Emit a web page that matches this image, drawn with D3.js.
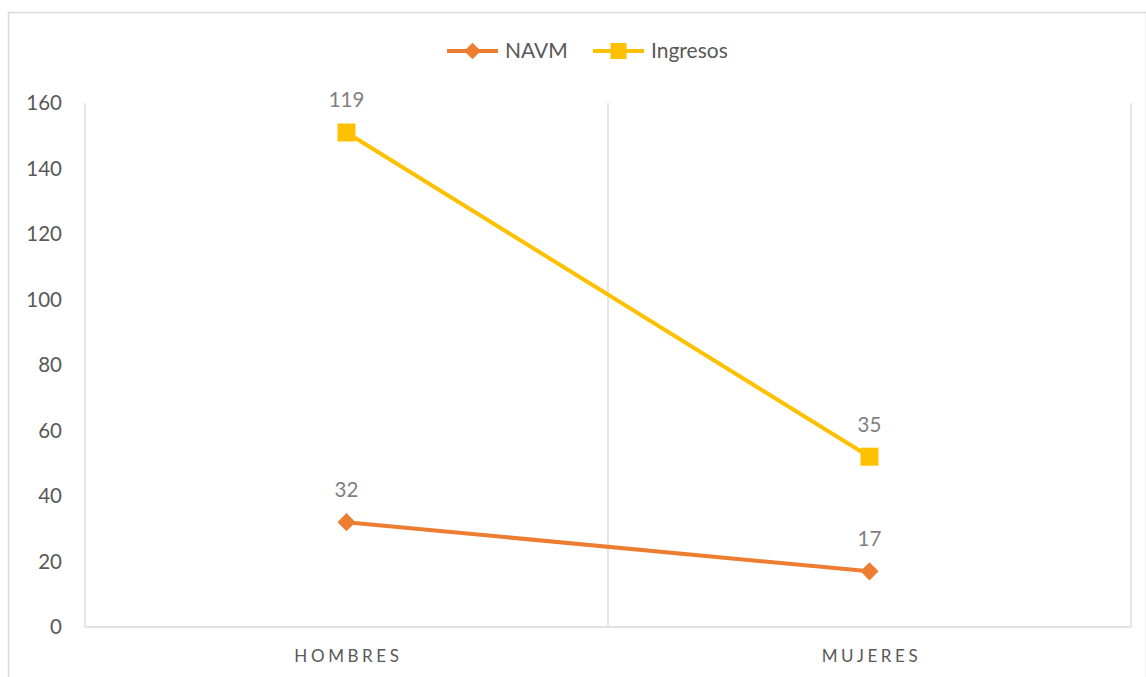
<!DOCTYPE html>
<html><head><meta charset="utf-8">
<script src="https://cdn.jsdelivr.net/npm/d3@7"></script>
<style>body{margin:0;background:#fff;}svg{display:block;font-family:Lato,"Open Sans",sans-serif;}</style>
</head><body>
<svg id="c" width="1146" height="677"></svg>
<script>
const categories = ["HOMBRES", "MUJERES"];
const navm = [32, 17];
const ingresos = [119, 35];
const yTicks = [0, 20, 40, 60, 80, 100, 120, 140, 160];
const seriesNames = ["NAVM", "Ingresos"];
const colors = ["#ED7D31", "#FFC000"];

const svg = d3.select("#c");
const W = 1146, H = 677;
const m = {left: 85, right: 1131, top: 103, bottom: 627};

svg.append("rect").attr("x", 8.5).attr("y", 12.5).attr("width", W - 8).attr("height", H)
  .attr("fill", "#fff").attr("stroke", "#d9d9d9").attr("stroke-width", 1.5);

const x = d3.scaleBand().domain(categories).range([m.left, m.right]);
const y = d3.scaleLinear().domain([0, 160]).range([m.bottom, m.top]);

const stacked = [navm, navm.map((v, i) => v + ingresos[i])];
const raw = [navm, ingresos];

const bounds = categories.map(c => x(c)).concat([x(categories[categories.length - 1]) + x.bandwidth()]);
svg.append("g").selectAll("line").data(bounds.slice(1)).join("line")
  .attr("x1", d => d).attr("x2", d => d).attr("y1", y(160)).attr("y2", y(0))
  .attr("stroke", "#d9d9d9").attr("stroke-width", 1.3);

svg.append("line").attr("x1", m.left).attr("x2", m.left).attr("y1", y(160)).attr("y2", y(0))
  .attr("stroke", "#d9d9d9").attr("stroke-width", 1.3);
svg.append("line").attr("x1", m.left).attr("x2", m.right).attr("y1", y(0)).attr("y2", y(0))
  .attr("stroke", "#d9d9d9").attr("stroke-width", 1.5);

svg.append("g").selectAll("text").data(yTicks).join("text")
  .attr("x", 62).attr("y", d => y(d)).attr("dy", "0.35em")
  .attr("text-anchor", "end").attr("fill", "#595959").attr("font-size", 20.5)
  .text(d => d);

svg.append("g").selectAll("text").data(categories).join("text")
  .attr("x", d => x(d) + x.bandwidth() / 2 + 2).attr("y", 662)
  .attr("text-anchor", "middle").attr("fill", "#595959").attr("font-size", 17)
  .attr("letter-spacing", "3.6px")
  .text(d => d);

const cx = d => x(d) + x.bandwidth() / 2;
const line = d3.line().x((d, i) => cx(categories[i])).y(d => y(d));

stacked.forEach((vals, s) => {
  const g = svg.append("g");
  g.append("path").datum(vals).attr("d", line).attr("fill", "none")
    .attr("stroke", colors[s]).attr("stroke-width", 4).attr("stroke-linejoin", "round");
  vals.forEach((v, i) => {
    if (s === 0) {
      g.append("path").attr("d", d3.symbol().type(d3.symbolSquare).size(165)())
        .attr("transform", `translate(${cx(categories[i])},${y(v)}) rotate(45)`)
        .attr("fill", colors[s]);
    } else {
      g.append("rect").attr("x", cx(categories[i]) - 9).attr("y", y(v) - 9)
        .attr("width", 18).attr("height", 18).attr("fill", colors[s]);
    }
    g.append("text").attr("x", cx(categories[i])).attr("y", y(v) - 25)
      .attr("text-anchor", "middle").attr("fill", "#7f7f7f").attr("font-size", 20.5)
      .text(raw[s][i]);
  });
});

const legendX = [447, 593];
seriesNames.forEach((n, s) => {
  const lx = legendX[s], ly = 51;
  svg.append("line").attr("x1", lx).attr("x2", lx + 51).attr("y1", ly).attr("y2", ly)
    .attr("stroke", colors[s]).attr("stroke-width", 4);
  if (s === 0) {
    svg.append("path").attr("d", d3.symbol().type(d3.symbolSquare).size(140)())
      .attr("transform", `translate(${lx + 25.5},${ly}) rotate(45)`).attr("fill", colors[s]);
  } else {
    svg.append("rect").attr("x", lx + 25.5 - 8).attr("y", ly - 8).attr("width", 16).attr("height", 16)
      .attr("fill", colors[s]);
  }
  svg.append("text").attr("x", lx + 58).attr("y", ly).attr("dy", "0.35em")
    .attr("fill", "#595959").attr("font-size", 21).text(n);
});
</script>
</body></html>
